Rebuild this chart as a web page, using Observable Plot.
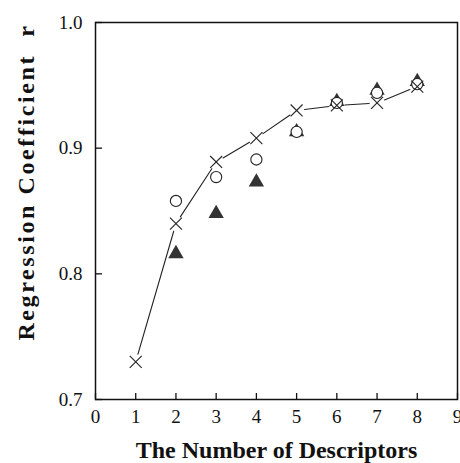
<!DOCTYPE html>
<html>
<head>
<meta charset="utf-8">
<script src="https://cdn.jsdelivr.net/npm/d3@7"></script>
<script src="https://cdn.jsdelivr.net/npm/@observablehq/plot@0.6"></script>
<style>
  html, body { margin: 0; padding: 0; background: #fff; }
  #chart { width: 460px; height: 463px; }
</style>
</head>
<body>
<div id="chart"></div>
<script>
// ---- data ----
const xTicks = [0, 1, 2, 3, 4, 5, 6, 7, 8, 9];
const yTicks = [0.7, 0.8, 0.9, 1.0];
const crossX = [1, 2, 3, 4, 5, 6, 7, 8];
const crossR = [0.730, 0.840, 0.889, 0.908, 0.930, 0.934, 0.936, 0.949];
const circleX = [2, 3, 4, 5, 6, 7, 8];
const circleR = [0.858, 0.877, 0.891, 0.913, 0.936, 0.944, 0.951];
const triX = [2, 3, 4, 5, 6, 7, 8];
const triR = [0.816, 0.848, 0.873, 0.913, 0.937, 0.946, 0.953];
const xTitle = "The Number of Descriptors";
const yTitle = "Regression Coefficient\u00a0\u00a0r";

// ---- layout ----
const W = 460, H = 463;
const mL = 95, mR = 3, mT = 22, mB = 64;
const plotW = W - mL - mR, plotH = H - mT - mB;

const crosses = crossX.map((x, i) => ({x, r: crossR[i]}));
const circles = circleX.map((x, i) => ({x, r: circleR[i]}));
const tris = triX.map((x, i) => ({x, r: triR[i]}));
const segs = d3.pairs(crosses).map(([a, b]) => ({x1: a.x, y1: a.r, x2: b.x, y2: b.r}));

const chart = Plot.plot({
  width: W, height: H,
  marginLeft: mL, marginRight: mR, marginTop: mT, marginBottom: mB,
  style: {fontFamily: "Liberation Serif, Times New Roman, serif", fontSize: "19px", color: "#111", background: "#fff"},
  x: {domain: [0, 9]},
  y: {domain: [0.7, 1.0]},
  marks: [
    Plot.axisX({ticks: xTicks, tickSize: 0, tickPadding: 10, tickFormat: d => String(d), label: null}),
    Plot.axisY({ticks: yTicks, tickSize: 0, tickPadding: 13, tickFormat: d3.format(".1f"), label: null}),
    Plot.tickX(xTicks, {x: d => d, insetTop: plotH - 6, stroke: "#111", strokeWidth: 1.3}),
    Plot.tickY(yTicks, {y: d => d, insetRight: plotW - 7, stroke: "#111", strokeWidth: 1.3}),
    Plot.dot(tris, {x: "x", y: "r", symbol: "triangle", r: 5.7, fill: "#333", stroke: "none"}),
    Plot.dot(circles, {x: "x", y: "r", symbol: "circle", r: 5.6, fill: "#fff", stroke: "#222", strokeWidth: 1.1}),
    Plot.arrow(segs, {x1: "x1", y1: "y1", x2: "x2", y2: "y2", headLength: 0, insetStart: 8, insetEnd: 8, stroke: "#222", strokeWidth: 1.1}),
    Plot.dot(crosses, {x: "x", y: "r", symbol: "times", r: 5.5, stroke: "#222", strokeWidth: 1.1}),
    Plot.frame({stroke: "#111", strokeWidth: 1.5}),
    Plot.text([xTitle], {frameAnchor: "bottom", text: d => d, dy: 50.6, lineAnchor: "middle", textAnchor: "middle", fontWeight: "bold", fontSize: 24, fill: "#111"}),
    Plot.text([yTitle], {frameAnchor: "left", text: d => d, dx: -69, dy: -29, rotate: -90, lineAnchor: "middle", textAnchor: "middle", fontWeight: "bold", fontSize: 24, fill: "#111"})
  ]
});
d3.select(chart).selectAll("text").filter(function () { return this.textContent === yTitle; })
  .style("letter-spacing", "2.6px");
document.getElementById("chart").appendChild(chart);
</script>
</body>
</html>
